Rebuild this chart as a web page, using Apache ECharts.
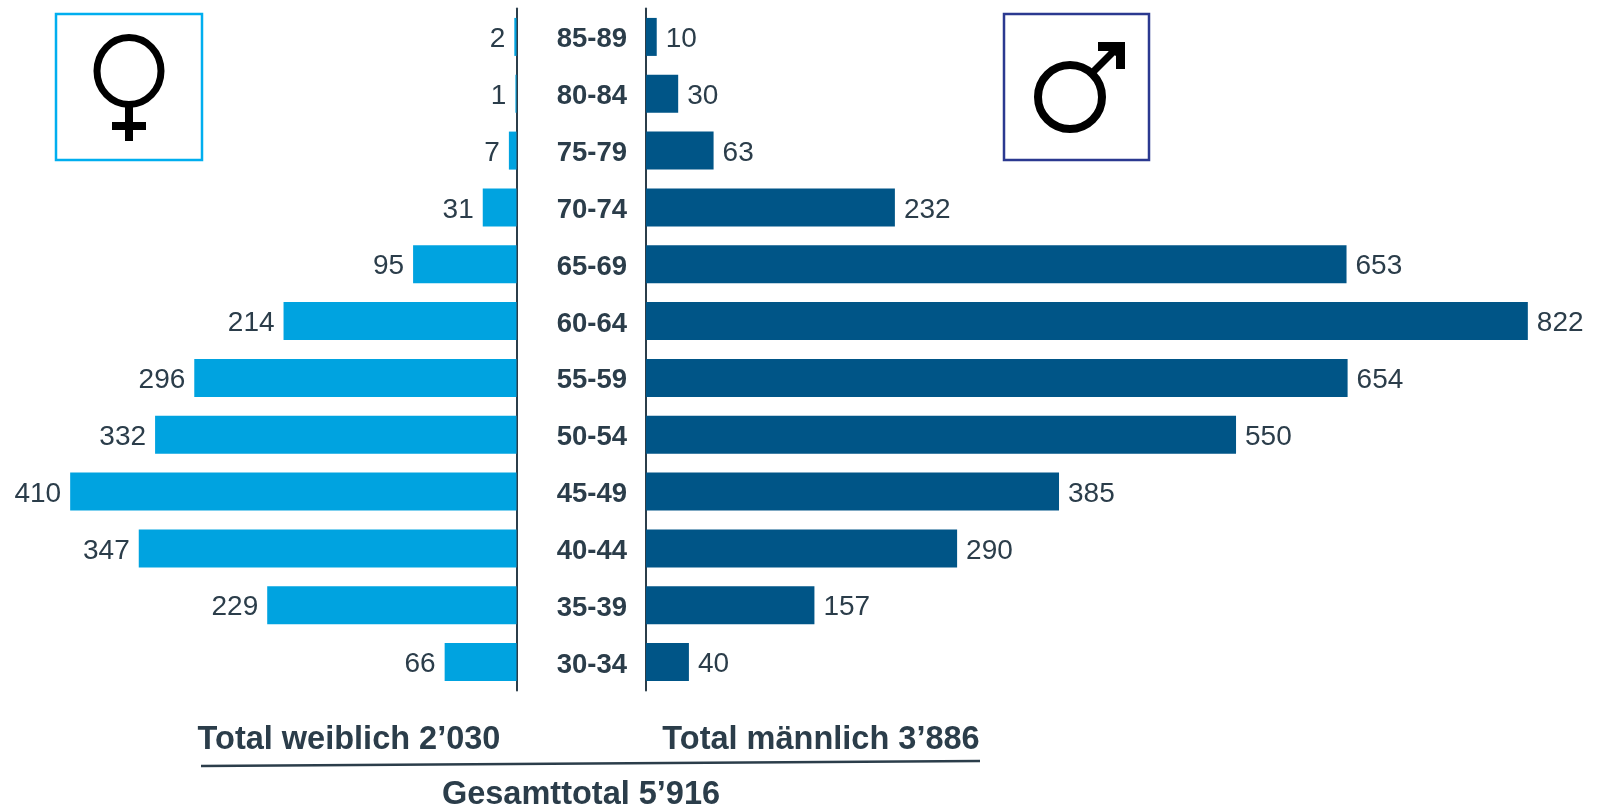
<!DOCTYPE html>
<html>
<head>
<meta charset="utf-8">
<style>html,body{margin:0;padding:0;background:#fff}#c{width:1604px;height:806px}</style>
<script src="https://cdn.jsdelivr.net/npm/echarts@6/dist/echarts.min.js"></script>
</head>
<body>
<div id="c"></div>
<script>
const ageGroups = ['85-89','80-84','75-79','70-74','65-69','60-64','55-59','50-54','45-49','40-44','35-39','30-34'];
const female = [2,1,7,31,95,214,296,332,410,347,229,66];
const male = [10,30,63,232,653,822,654,550,385,290,157,40];
const totalFemale = 'Total weiblich 2’030';
const totalMale = 'Total männlich 3’886';
const grandTotal = 'Gesamttotal 5’916';

const ink = '#2b3d4a';
const font = '"Liberation Sans", Arial, sans-serif';
const txt = (x, y, text) => ({
  type: 'text', x, y,
  style: { text, fill: ink, font: 'bold 32.5px ' + font, textAlign: 'center', textVerticalAlign: 'middle' }
});

const chart = echarts.init(document.getElementById('c'), null, { renderer: 'canvas' });
chart.setOption({
  animation: false,
  backgroundColor: '#fff',
  grid: [
    { left: 0.5, width: 516, top: 8.5, height: 682 },
    { left: 646, width: 958, top: 8.5, height: 682 }
  ],
  xAxis: [
    { gridIndex: 0, type: 'value', inverse: true, min: 0, max: 474, show: false },
    { gridIndex: 1, type: 'value', min: 0, max: 893, show: false }
  ],
  yAxis: [
    { gridIndex: 0, type: 'category', inverse: true, data: ageGroups, position: 'right',
      axisLine: { show: true, lineStyle: { color: ink, width: 2 } },
      axisTick: { show: false }, axisLabel: { show: false } },
    { gridIndex: 1, type: 'category', inverse: true, data: ageGroups, position: 'left',
      axisLine: { show: true, lineStyle: { color: ink, width: 2 } },
      axisTick: { show: false },
      axisLabel: { show: true, margin: 19, formatter: v => '{a|' + v + '}',
        rich: { a: { padding: [6, 0, 0, 0], color: ink, fontFamily: font, fontWeight: 'bold', fontSize: 27.5 } } } }
  ],
  series: [
    { type: 'bar', xAxisIndex: 0, yAxisIndex: 0, data: female, barWidth: 38,
      itemStyle: { color: '#00a3e0' }, silent: true,
      label: { show: true, position: 'left', distance: 9, offset: [0, 2.5], color: ink, fontFamily: font, fontSize: 28 } },
    { type: 'bar', xAxisIndex: 1, yAxisIndex: 1, data: male, barWidth: 38,
      itemStyle: { color: '#005587' }, silent: true,
      label: { show: true, position: 'right', distance: 9, offset: [0, 2.5], color: ink, fontFamily: font, fontSize: 28 } }
  ],
  graphic: [
    { type: 'rect', shape: { x: 56, y: 14, width: 146, height: 146 }, style: { fill: '#fff', stroke: '#00aeef', lineWidth: 2.5 } },
    { type: 'ellipse', shape: { cx: 129, cy: 71, rx: 32, ry: 33.5 }, style: { fill: 'none', stroke: '#000', lineWidth: 7 } },
    { type: 'rect', shape: { x: 125, y: 105, width: 8, height: 36 }, style: { fill: '#000' } },
    { type: 'rect', shape: { x: 112, y: 122, width: 34, height: 8 }, style: { fill: '#000' } },
    { type: 'rect', shape: { x: 1004, y: 14, width: 145, height: 146 }, style: { fill: '#fff', stroke: '#2b3990', lineWidth: 2.5 } },
    { type: 'circle', shape: { cx: 1070, cy: 97, r: 32 }, style: { fill: 'none', stroke: '#000', lineWidth: 8 } },
    { type: 'line', shape: { x1: 1092, y1: 73, x2: 1118, y2: 47 }, style: { stroke: '#000', lineWidth: 7 } },
    { type: 'polygon', shape: { points: [[1098,42],[1125,42],[1125,69],[1116,69],[1116,56],[1108,51],[1098,51]] }, style: { fill: '#000' } },
    txt(349, 740, totalFemale),
    txt(821, 740, totalMale),
    { type: 'line', shape: { x1: 201, y1: 766, x2: 980, y2: 761 }, style: { stroke: ink, lineWidth: 2.5 } },
    txt(581, 795, grandTotal)
  ]
});
</script>
</body>
</html>
